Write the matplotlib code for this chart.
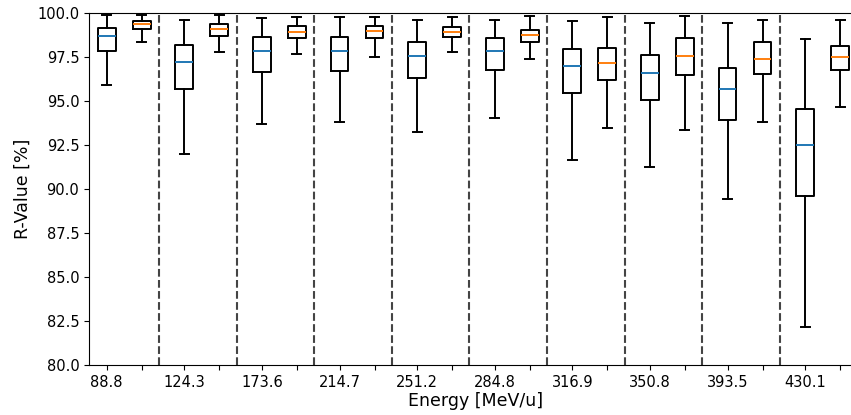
import matplotlib
matplotlib.use('Agg')
import matplotlib.pyplot as plt

energies = ['88.8', '124.3', '173.6', '214.7', '251.2', '284.8', '316.9', '350.8', '393.5', '430.1']

# first model (blue median)
a_whishi = [99.89, 99.62, 99.72, 99.81, 99.62, 99.64, 99.58, 99.45, 99.43, 98.52]
a_q3 = [99.18, 98.20, 98.65, 98.65, 98.37, 98.58, 97.99, 97.61, 96.91, 94.54]
a_med = [98.71, 97.21, 97.87, 97.86, 97.55, 97.86, 96.99, 96.59, 95.70, 92.49]
a_q1 = [97.86, 95.70, 96.68, 96.70, 96.30, 96.76, 95.47, 95.09, 93.95, 89.59]
a_whislo = [95.92, 92.00, 93.69, 93.80, 93.27, 94.06, 91.67, 91.26, 89.44, 82.14]

# second model (orange median)
b_whishi = [99.92, 99.89, 99.81, 99.81, 99.79, 99.83, 99.77, 99.85, 99.60, 99.62]
b_q3 = [99.56, 99.37, 99.28, 99.28, 99.24, 99.07, 98.04, 98.61, 98.39, 98.16]
b_med = [99.39, 99.09, 98.95, 98.99, 98.95, 98.78, 97.19, 97.57, 97.42, 97.53]
b_q1 = [99.09, 98.71, 98.61, 98.58, 98.63, 98.39, 96.21, 96.49, 96.57, 96.76]
b_whislo = [98.37, 97.78, 97.67, 97.53, 97.80, 97.40, 93.49, 93.35, 93.84, 94.69]


def make_stats(lo, q1, med, q3, hi):
    return [dict(whislo=l, q1=a, med=m, q3=b, whishi=h, fliers=[])
            for l, a, m, b, h in zip(lo, q1, med, q3, hi)]


stats_a = make_stats(a_whislo, a_q1, a_med, a_q3, a_whishi)
stats_b = make_stats(b_whislo, b_q1, b_med, b_q3, b_whishi)

pos_a = [i for i in range(len(energies))]
pos_b = [i + 0.451 for i in range(len(energies))]

fig = plt.figure(figsize=(8.51, 4.15), dpi=100)
ax = fig.add_axes([89 / 851, 1 - 365 / 415, 773 / 851, 351.7 / 415])

lw = 1.4
ax.bxp(stats_a, positions=pos_a, widths=0.23, showfliers=False,
       boxprops=dict(color='k', linewidth=lw), whiskerprops=dict(color='k', linewidth=lw),
       capprops=dict(color='k', linewidth=lw), medianprops=dict(color='C0', linewidth=1.4))
ax.bxp(stats_b, positions=pos_b, widths=0.23, showfliers=False,
       boxprops=dict(color='k', linewidth=lw), whiskerprops=dict(color='k', linewidth=lw),
       capprops=dict(color='k', linewidth=lw), medianprops=dict(color='C1', linewidth=1.4))

for i in range(len(energies) - 1):
    ax.axvline(i + 0.674, color='#444444', linestyle='--', linewidth=1.5)

ticks = []
labels = []
for i in range(len(energies)):
    ticks += [pos_a[i], pos_b[i]]
    labels += [energies[i], '']
ax.set_xticks(ticks)
ax.set_xticklabels(labels, fontsize=10.5)
ax.tick_params(axis='y', labelsize=10.5)

ax.set_xlim(-0.228, 9.733)
ax.set_ylim(80, 100)
ax.set_yticks([80 + 2.5 * k for k in range(9)])
ax.set_yticklabels(['%.1f' % (80 + 2.5 * k) for k in range(9)])
ax.set_xlabel('Energy [MeV/u]', fontsize=12.5, labelpad=2)
ax.set_ylabel('R-Value [%]', fontsize=12.5)

fig.savefig('out.png', dpi=100)
